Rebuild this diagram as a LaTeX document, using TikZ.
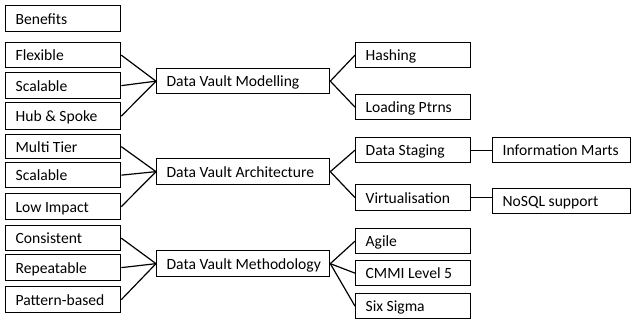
\documentclass[tikz,border=0pt]{standalone}
\usepackage{fontspec}
\setmainfont{Carlito}
\begin{document}
\begin{tikzpicture}[x=1pt,y=-1pt,
  box/.style={draw=black, line width=1.3pt, rectangle, anchor=north west,
    inner xsep=0pt, inner ysep=0pt, align=flush left,
    text height=11pt, text depth=-8.8pt,
    execute at begin node={\hspace*{10pt}},
    font=\fontsize{15.6}{18}\selectfont},
  lbox/.style={box, text width=115pt, minimum height=#1},
  mbox/.style={box, text width=173pt, minimum height=#1},
  rbox/.style={box, text width=115pt, minimum height=#1},
  fbox/.style={box, text width=138pt, minimum height=#1},
  link/.style={draw=black, line width=1.2pt}]
\useasboundingbox (0,0) rectangle (631,320);
% left column
\node[lbox=26pt] (ben) at (5,5) {Benefits};
\node[lbox=25pt] (flex) at (5,42) {Flexible};
\node[lbox=26pt] (scala) at (5,72) {Scalable};
\node[lbox=27pt] (hub) at (5,102) {Hub \& Spoke};
\node[lbox=24pt] (multi) at (5,134) {Multi Tier};
\node[lbox=25pt] (scalb) at (5,162) {Scalable};
\node[lbox=26pt] (low) at (5,193) {Low Impact};
\node[lbox=25pt] (cons) at (5,225) {Consistent};
\node[lbox=26pt] (rep) at (5,254) {Repeatable};
\node[lbox=26pt] (pat) at (5,286) {Pattern-based};
% middle column
\node[mbox=25pt] (dvm) at (156,68) {Data Vault Modelling};
\node[mbox=26pt] (dva) at (156,158) {Data Vault Architecture};
\node[mbox=26pt] (dvme) at (156,250) {Data Vault Methodology};
% right column
\node[rbox=25pt] (hash) at (355,42) {Hashing};
\node[rbox=25pt] (load) at (355,94) {Loading Ptrns};
\node[rbox=25pt] (stag) at (355,137) {Data Staging};
\node[rbox=26pt] (virt) at (355,184) {Virtualisation};
\node[rbox=25pt] (agile) at (355,228) {Agile};
\node[rbox=25pt] (cmmi) at (355,260) {CMMI Level 5};
\node[rbox=25pt] (six) at (355,293) {Six Sigma};
% far right
\node[fbox=25pt] (info) at (492,137) {Information Marts};
\node[fbox=25pt] (nosql) at (492,188) {NoSQL support};
% connectors
\draw[link] (flex.east) -- (dvm.west);
\draw[link] (scala.east) -- (dvm.west);
\draw[link] (hub.east) -- (dvm.west);
\draw[link] (multi.east) -- (dva.west);
\draw[link] (scalb.east) -- (dva.west);
\draw[link] (low.east) -- (dva.west);
\draw[link] (cons.east) -- (dvme.west);
\draw[link] (rep.east) -- (dvme.west);
\draw[link] (pat.east) -- (dvme.west);
\draw[link] (dvm.east) -- (hash.west);
\draw[link] (dvm.east) -- (load.west);
\draw[link] (dva.east) -- (stag.west);
\draw[link] (dva.east) -- (virt.west);
\draw[link] (dvme.east) -- (agile.west);
\draw[link] (dvme.east) -- (cmmi.west);
\draw[link] (dvme.east) -- (six.west);
\draw[link] (stag.east) -- (info.west);
\draw[link] (virt.east) -- (virt.east -| nosql.west);
\end{tikzpicture}
\end{document}
